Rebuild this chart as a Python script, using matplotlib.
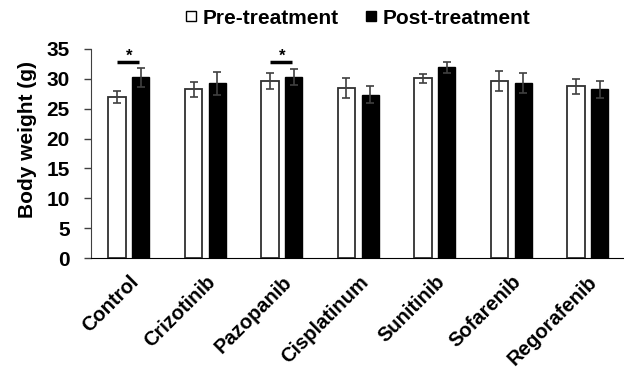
import matplotlib
matplotlib.use("Agg")
import matplotlib.pyplot as plt
import numpy as np
from matplotlib.lines import Line2D

categories = ["Control", "Crizotinib", "Pazopanib", "Cisplatinum", "Sunitinib", "Sofarenib", "Regorafenib"]
pre_vals = [26.9, 28.2, 29.6, 28.4, 30.05, 29.55, 28.7]
pre_err = [1.0, 1.3, 1.3, 1.7, 0.8, 1.65, 1.2]
post_vals = [30.2, 29.2, 30.3, 27.3, 31.9, 29.3, 28.2]
post_err = [1.6, 1.9, 1.3, 1.45, 0.9, 1.7, 1.4]
sig_groups = [0, 2]
yticks = [0, 5, 10, 15, 20, 25, 30, 35]

plt.rcParams['font.family'] = ['Liberation Sans', 'DejaVu Sans']
plt.rcParams['font.weight'] = 'bold'

fig = plt.figure(figsize=(6.24, 3.72), dpi=100)
ax = fig.add_axes([90.7/624, 1 - 258.3/372, (626 - 90.7)/624, (258.3 - 48.7)/372])

x = np.arange(len(categories))
w = 0.225
off = 0.155
ecol = '#404040'
ax.bar(x - off, pre_vals, w, color='white', edgecolor='#303030', linewidth=1.3,
       yerr=pre_err, error_kw=dict(ecolor=ecol, elinewidth=1.2, capsize=3, capthick=1.2), zorder=2)
ax.bar(x + off, post_vals, w, color='black', edgecolor='black', linewidth=1.0,
       yerr=post_err, error_kw=dict(ecolor=ecol, elinewidth=1.2, capsize=3, capthick=1.2), zorder=2)

for g in sig_groups:
    yl = 32.8
    ax.plot([g - 0.16, g + 0.13], [yl, yl], color='black', lw=2.5, solid_capstyle='butt', clip_on=False)
    ax.text(g, 33.0, '*', ha='center', va='baseline', fontsize=12, fontweight='bold')

ax.set_xlim(-0.5, len(categories) - 0.5)
ax.set_ylim(0, 35)
ax.set_yticks(yticks)
ax.set_yticklabels([str(t) for t in yticks], fontsize=15, fontweight='bold')
ax.set_xticks(x)
ax.set_xticklabels(categories, rotation=45, ha='right', rotation_mode='anchor', fontsize=14.5, fontweight='bold')
ax.tick_params(axis='x', length=0, pad=10)
ax.tick_params(axis='y', length=5, width=1, direction='out', pad=10, color='#404040')
for s in ['top', 'right']:
    ax.spines[s].set_visible(False)
ax.spines['left'].set_color('#404040')
ax.spines['bottom'].set_color('black')
ax.set_ylabel('Body weight (g)', fontsize=15, fontweight='bold', va='center')
ax.yaxis.set_label_coords(-0.118, 0.569)

handles = [Line2D([], [], linestyle='none', marker='s', markersize=6.5, markerfacecolor='white',
                  markeredgecolor='black', markeredgewidth=1.0),
           Line2D([], [], linestyle='none', marker='s', markersize=6.5, markerfacecolor='black',
                  markeredgecolor='black', markeredgewidth=1.0)]
fig.legend(handles, ['Pre-treatment', 'Post-treatment'], loc='center', bbox_to_anchor=(358/624, 1 - 18/372),
           ncol=2, frameon=False, handlelength=0.5, handletextpad=0.3, columnspacing=1.3,
           borderpad=0.1, prop={'weight': 'bold', 'size': 15})

fig.savefig('out.png', dpi=100)
